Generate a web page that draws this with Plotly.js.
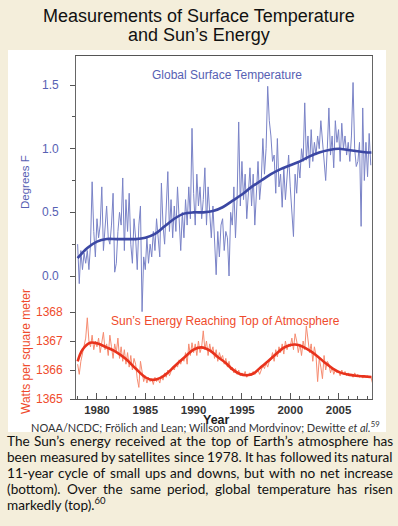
<!DOCTYPE html>
<html>
<head>
<meta charset="utf-8">
<script src="https://cdn.plot.ly/plotly-3.0.1.min.js"></script>
<style>
html,body{margin:0;padding:0;background:#f4eedb;}
#chart{width:398px;height:526px;}
</style>
</head>
<body>
<div id="chart"></div>
<script>
// ---------------- DATA ----------------
// Global surface temperature anomaly (deg F), every 2 months starting Jan 1978
const tempStart = 1978.0;
const tempStep = 1/6;
const tempValues = [
  0.25,-0.06,0.20,0.05,0.18,0.10,   // 1978
  0.20,0.05,0.25,0.74,0.35,0.15,    // 1979
  0.45,0.30,0.40,0.70,0.20,0.35,    // 1980
  0.55,0.30,0.25,0.40,0.65,0.03,    // 1981
  0.10,0.35,0.50,0.40,0.77,0.20,    // 1982
  0.60,0.35,0.65,0.25,0.10,0.45,    // 1983
  0.30,0.05,0.40,0.55,-0.28,0.15,   // 1984
  0.05,0.30,0.10,0.25,0.15,0.35,    // 1985
  0.20,0.45,0.30,0.15,0.73,0.40,    // 1986
  0.25,0.50,0.82,0.35,0.60,0.30,    // 1987
  0.55,0.35,0.70,0.45,0.20,0.50,    // 1988
  0.30,0.60,0.40,0.70,0.45,1.16,    // 1989
  0.65,0.40,0.80,0.55,0.70,0.45,    // 1990
  0.60,0.85,0.40,0.70,0.50,0.30,    // 1991
  0.55,0.25,0.01,0.35,0.15,0.40,    // 1992
  0.45,0.20,0.35,0.30,0.00,0.50,    // 1993
  0.40,0.70,0.30,0.60,1.21,0.55,    // 1994
  0.90,0.60,0.80,0.45,0.70,0.85,    // 1995
  0.55,0.80,0.40,0.70,0.90,0.60,    // 1996
  0.75,1.08,0.80,1.00,1.49,1.22,    // 1997
  1.10,0.90,0.95,0.65,1.08,0.70,    // 1998
  0.80,0.54,0.85,0.60,0.75,0.95,    // 1999
  0.70,0.50,0.31,0.80,0.65,0.90,    // 2000
  0.77,1.00,0.90,1.36,0.91,1.10,    // 2001
  0.85,1.15,0.90,1.05,0.95,1.10,    // 2002
  1.00,1.22,1.05,0.90,0.75,1.00,    // 2003
  1.32,0.95,1.10,0.85,1.22,1.05,    // 2004
  1.15,0.90,1.20,1.00,1.10,0.95,    // 2005
  1.05,0.90,1.10,1.52,1.00,0.86,    // 2006
  0.90,1.05,0.39,1.32,0.75,1.05,    // 2007
  0.78,1.12,0.87                    // 2008
];
// Smoothed temperature curve
const tempSmoothYears = [1978,1979,1980,1981,1982,1983,1984,1985,1986,1987,1988,1989,1990,1991,1992,1993,1994,1995,1996,1997,1998,1999,2000,2001,2002,2003,2004,2005,2006,2007,2008,2008.4];
const tempSmoothValues = [0.14,0.22,0.27,0.29,0.29,0.29,0.29,0.30,0.33,0.39,0.45,0.49,0.50,0.50,0.51,0.54,0.59,0.64,0.70,0.75,0.80,0.84,0.87,0.90,0.94,0.97,0.99,1.00,0.99,0.98,0.97,0.97];

// Total solar irradiance (W/m^2), every 2 months starting Jan 1978
const sunStart = 1978.0;
const sunStep = 1/6;
const sunValues = [
  1366.2,1365.85,1366.3,1366.6,1366.9,1367.1,   // 1978
  1367.8,1367.0,1366.8,1367.2,1366.7,1367.0,    // 1979
  1366.8,1367.1,1366.6,1367.0,1367.3,1366.7,    // 1980
  1366.9,1366.5,1367.2,1366.8,1366.4,1366.9,    // 1981
  1366.6,1367.1,1366.4,1366.8,1366.3,1366.7,    // 1982
  1366.2,1366.6,1366.1,1366.5,1366.0,1366.4,    // 1983
  1366.2,1365.7,1365.4,1366.3,1365.9,1365.6,    // 1984
  1365.8,1365.55,1365.75,1365.6,1365.7,1365.5,  // 1985
  1365.75,1365.6,1365.7,1365.55,1365.8,1365.65, // 1986
  1365.9,1365.75,1366.0,1365.8,1365.95,1366.1,  // 1987
  1366.0,1366.2,1366.1,1366.35,1366.2,1366.4,   // 1988
  1366.3,1366.6,1366.2,1366.9,1366.5,1366.94,   // 1989
  1366.6,1366.9,1366.5,1367.0,1366.6,1366.8,    // 1990
  1367.35,1366.7,1367.0,1366.5,1366.9,1366.6,   // 1991
  1366.8,1366.4,1366.7,1366.3,1366.6,1366.4,    // 1992
  1366.5,1366.2,1366.4,1366.1,1366.3,1366.0,    // 1993
  1366.1,1365.9,1366.05,1365.85,1366.0,1365.8,  // 1994
  1365.9,1365.8,1365.95,1365.75,1365.85,1365.9, // 1995
  1365.8,1365.95,1365.85,1365.9,1366.0,1365.85, // 1996
  1366.0,1366.15,1366.05,1366.25,1366.1,1366.3, // 1997
  1366.35,1366.6,1366.3,1366.7,1366.45,1366.8,  // 1998
  1366.6,1366.9,1366.55,1367.0,1366.7,1366.9,   // 1999
  1366.8,1367.1,1366.7,1367.25,1367.0,1366.6,   // 2000
  1366.9,1366.5,1367.0,1366.7,1367.52,1367.1,   // 2001
  1366.6,1366.9,1366.3,1366.8,1366.5,1365.6,    // 2002
  1366.4,1366.1,1365.7,1366.5,1366.0,1366.3,    // 2003
  1366.2,1365.9,1366.1,1365.85,1366.0,1365.9,   // 2004
  1365.95,1365.8,1366.0,1365.85,1365.95,1365.8, // 2005
  1365.9,1365.8,1365.85,1365.75,1365.9,1365.8,  // 2006
  1365.85,1365.75,1365.8,1365.72,1365.82,1365.75, // 2007
  1365.8,1365.72,1365.78,1365.56                // 2008
];
// Smoothed solar curve
const sunSmoothYears = [1978.0,1978.5,1979.3,1980.0,1981.0,1982.0,1983.0,1984.0,1985.0,1985.7,1986.5,1987.3,1988.0,1989.0,1990.0,1990.8,1991.7,1992.5,1993.3,1994.0,1994.8,1995.5,1996.2,1996.9,1997.7,1998.5,1999.3,2000.0,2000.5,2001.2,2002.1,2002.9,2003.6,2004.4,2005.2,2006.0,2006.8,2007.6,2008.4];
const sunSmoothValues = [1366.30,1366.70,1366.94,1366.92,1366.78,1366.62,1366.38,1366.05,1365.75,1365.66,1365.72,1365.90,1366.12,1366.42,1366.70,1366.78,1366.67,1366.45,1366.25,1366.03,1365.86,1365.82,1365.88,1366.08,1366.30,1366.54,1366.76,1366.86,1366.88,1366.82,1366.65,1366.45,1366.25,1366.05,1365.91,1365.84,1365.80,1365.78,1365.76];

// Tick labels
const tempTickVals = [0, 0.5, 1.0, 1.5];
const tempTickText = ['0.0', '0.5', '1.0', '1.5'];
const sunTickVals = [1365, 1366, 1367, 1368];
const sunTickText = ['1365', '1366', '1367', '1368'];
const yearTickVals = [1980, 1985, 1990, 1995, 2000, 2005];

// Texts
const titleLines = ['Measurements of Surface Temperature', 'and Sun’s Energy'];
const tempLabel = 'Global Surface Temperature';
const sunLabel = 'Sun’s Energy Reaching Top of Atmosphere';
const sourceText = 'NOAA/NCDC; Frölich and Lean; Willson and Mordvinov; Dewitte <i>et al.</i><sup>59</sup>';
const captionLines = [
  'The Sun’s energy received at the top of Earth’s atmosphere has',
  'been measured by satellites since 1978. It has followed its natural',
  '11-year cycle of small ups and downs, but with no net increase',
  '(bottom). Over the same period, global temperature has risen'
];
const captionLast = 'markedly (top).<sup>60</sup>';

// ---------------- LAYOUT HELPERS ----------------
const W = 398, H = 526;
const L = 76, R = 372, T = 56, B = 399;
const px2x = px => (px - L) / (R - L);
const px2y = py => (B - py) / (B - T);

const BLUE = '#5761b3';
const BLUE_LIGHT = '#7a83c7';
const BLUE_DARK = '#3b47a3';
const RED = '#ef4b2c';
const RED_LIGHT = '#f68b70';
const RED_DARK = '#e8321c';
const FONT = 'Liberation Sans, Arial, sans-serif';
const CAPFONT = 'Lato';

const tempX = tempValues.map((v, i) => tempStart + i * tempStep);
const sunX = sunValues.map((v, i) => sunStart + i * sunStep);

// temperature axis: 0 at y=276, 0.5 per 63.65px
const tScale = 127.3;
const tempRange = [(276 - B) / tScale, (276 - T) / tScale];
// solar axis: 1365 at bottom, 29 px per unit
const sScale = 29;
const sunRange = [1365, 1365 + (B - T) / sScale];

const traces = [
  {x: tempX, y: tempValues, type: 'scatter', mode: 'lines', yaxis: 'y',
   line: {color: BLUE_LIGHT, width: 1}, hoverinfo: 'skip'},
  {x: tempSmoothYears, y: tempSmoothValues, type: 'scatter', mode: 'lines', yaxis: 'y',
   line: {color: BLUE_DARK, width: 2.6, shape: 'spline'}, hoverinfo: 'skip'},
  {x: sunX, y: sunValues, type: 'scatter', mode: 'lines', yaxis: 'y2',
   line: {color: RED_LIGHT, width: 1}, hoverinfo: 'skip'},
  {x: sunSmoothYears, y: sunSmoothValues, type: 'scatter', mode: 'lines', yaxis: 'y2',
   line: {color: RED_DARK, width: 2.6, shape: 'spline'}, hoverinfo: 'skip'}
];

// ---------- justified caption via canvas measuring ----------
const capSize = 13.6;
const capLeft = 6, capRight = 392;
const capY = [441.3, 457.0, 472.8, 488.6, 504.4];
const ctx = document.createElement('canvas').getContext('2d');
ctx.font = capSize + 'px ' + CAPFONT;
const annotations = [];
captionLines.forEach((line, li) => {
  const words = line.split(' ');
  const widths = words.map(w => ctx.measureText(w).width);
  const total = widths.reduce((a, b) => a + b, 0);
  const gap = (capRight - capLeft - total) / (words.length - 1);
  let xpos = capLeft;
  words.forEach((w, wi) => {
    annotations.push({text: w, xref: 'paper', yref: 'paper', x: px2x(xpos), y: px2y(capY[li]),
      xanchor: 'left', yanchor: 'middle', showarrow: false, borderpad: 0,
      font: {family: CAPFONT, size: capSize, color: '#111'}});
    xpos += widths[wi] + gap;
  });
});
annotations.push({text: captionLast, xref: 'paper', yref: 'paper', x: px2x(capLeft), y: px2y(capY[4]),
  xanchor: 'left', yanchor: 'middle', showarrow: false, borderpad: 0,
  font: {family: CAPFONT, size: capSize, color: '#111'}});

// title lines
annotations.push(
  {text: titleLines[0], xref: 'paper', yref: 'paper', x: px2x(198.5), y: px2y(16), xanchor: 'center', yanchor: 'middle',
   showarrow: false, borderpad: 0, font: {family: FONT, size: 18, color: '#111'}},
  {text: titleLines[1], xref: 'paper', yref: 'paper', x: px2x(198.5), y: px2y(35.5), xanchor: 'center', yanchor: 'middle',
   showarrow: false, borderpad: 0, font: {family: FONT, size: 18, color: '#111'}}
);

// y tick labels, placed on the axes' own scales
tempTickVals.forEach((v, i) => annotations.push({text: tempTickText[i], xref: 'paper', yref: 'y', x: px2x(60), y: v,
  xanchor: 'right', yanchor: 'middle', showarrow: false, borderpad: 0, font: {family: FONT, size: 12, color: BLUE}}));
sunTickVals.forEach((v, i) => annotations.push({text: sunTickText[i], xref: 'paper', yref: 'y2', x: px2x(63.5), y: v,
  xanchor: 'right', yanchor: 'middle', showarrow: false, borderpad: 0, font: {family: FONT, size: 12, color: RED}}));

annotations.push(
  {text: tempLabel, xref: 'paper', yref: 'paper', x: px2x(227), y: px2y(75), xanchor: 'center', yanchor: 'middle',
   showarrow: false, font: {family: FONT, size: 12, color: BLUE}},
  {text: sunLabel, xref: 'paper', yref: 'paper', x: px2x(225), y: px2y(321), xanchor: 'center', yanchor: 'middle',
   showarrow: false, font: {family: FONT, size: 12, color: RED}},
  {text: 'Degrees F', xref: 'paper', yref: 'paper', x: px2x(25), y: px2y(182), xanchor: 'center', yanchor: 'middle',
   textangle: -90, showarrow: false, font: {family: FONT, size: 11.5, color: BLUE}},
  {text: 'Watts per square meter', xref: 'paper', yref: 'paper', x: px2x(26), y: px2y(352), xanchor: 'center', yanchor: 'middle',
   textangle: -90, showarrow: false, font: {family: FONT, size: 12, color: RED}},
  {text: '<b>Year</b>', xref: 'paper', yref: 'paper', x: px2x(216), y: px2y(419.5), xanchor: 'center', yanchor: 'middle',
   showarrow: false, borderpad: 0, font: {family: FONT, size: 12.5, color: '#222'}},
  {text: sourceText, xref: 'paper', yref: 'paper', x: px2x(381), y: px2y(426.5), xanchor: 'right', yanchor: 'middle',
   showarrow: false, borderpad: 0, font: {family: CAPFONT, size: 11, color: '#333'}}
);

const layout = {
  width: W, height: H,
  margin: {l: L, r: W - R, t: T, b: H - B, pad: 0},
  paper_bgcolor: '#f4eedb',
  plot_bgcolor: '#ffffff',
  showlegend: false,
  xaxis: {range: [1977.83, 2008.46], showgrid: false, zeroline: false,
          showline: true, linecolor: '#555', linewidth: 1, mirror: true,
          tickmode: 'array', tickvals: yearTickVals, ticks: 'inside', ticklen: 6, tickcolor: '#555', tickwidth: 1,
          minor: {tickmode: 'linear', tick0: 1978, dtick: 1, ticks: 'inside', ticklen: 3, tickcolor: '#555'},
          tickfont: {family: FONT, size: 11.5, color: '#333', weight: 'bold'}},
  yaxis: {range: tempRange, showgrid: false, zeroline: false,
          showline: true, linecolor: '#666', linewidth: 1.2, mirror: true,
          tickmode: 'array', tickvals: tempTickVals, showticklabels: false,
          ticks: 'outside', ticklen: 5, tickcolor: '#555',
          minor: {tickmode: 'array', tickvals: [0.25, 0.75, 1.25], ticks: 'outside', ticklen: 3, tickcolor: '#555'}},
  yaxis2: {range: sunRange, overlaying: 'y', side: 'left', anchor: 'x', showgrid: false, zeroline: false,
           showline: false, tickmode: 'array', tickvals: sunTickVals, showticklabels: false,
           ticks: 'outside', ticklen: 5, tickcolor: '#555'},
  shapes: [
    {type: 'rect', xref: 'paper', yref: 'paper', x0: px2x(8), x1: px2x(386), y0: px2y(432), y1: px2y(50),
     fillcolor: '#ffffff', line: {width: 0}, layer: 'below'}
  ],
  annotations: annotations
};

Plotly.newPlot('chart', traces, layout, {displayModeBar: false, staticPlot: true});
</script>
</body>
</html>
